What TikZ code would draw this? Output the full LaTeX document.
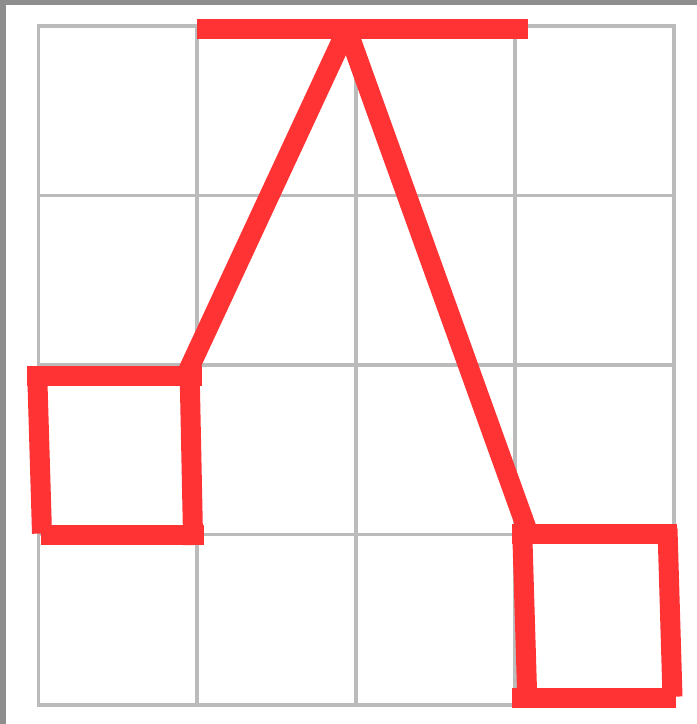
\documentclass[tikz,border=0pt]{standalone}
\definecolor{redline}{HTML}{FF3333}
\definecolor{gridgray}{HTML}{BBBBBB}
\definecolor{stone}{HTML}{8E8E8E}
\tikzset{
  redstroke/.style={draw=redline, line width=20pt, line cap=butt},
  gridstroke/.style={draw=gridgray, line width=3.5pt}
}
\begin{document}
\begin{tikzpicture}[x=1pt,y=-1pt]
\useasboundingbox (0,0) rectangle (697,724);
% background
\fill[stone] (0,0) rectangle (697,724);
\fill[white] (6,5) rectangle (697,724);
% grid
\foreach \gx in {38.5,197,356,515,674} \draw[gridstroke] (\gx,26) -- (\gx,705);
\foreach \gy in {26,195.5,365,534.5,705} \draw[gridstroke] (36.75,\gy) -- (675.75,\gy);
% key points
\coordinate (apex) at (347,29);
\coordinate (leftend) at (187,373);
\coordinate (rightend) at (529,535);
\coordinate (barL) at (197,29.3);
\coordinate (barR) at (528,29.3);
% top bar
\draw[redstroke] (barL) -- (barR);
% slanted lines
\draw[redstroke] (apex) -- (leftend);
\draw[redstroke] (apex) -- (rightend);
% left square
\draw[redstroke] (27,376.2) -- (202.3,376.2);
\draw[redstroke] (37,366.7) -- (42,533.5);
\draw[redstroke] (41,534.5) -- (204,534.5);
\draw[redstroke] (189.5,366.7) -- (193.2,545);
% right square
\draw[redstroke] (512.3,534.2) -- (676.7,534.2);
\draw[redstroke] (522,524.3) -- (527.5,706.7);
\draw[redstroke] (512,697.5) -- (676,697.5);
\draw[redstroke] (667.5,529) -- (672.5,696.7);
\end{tikzpicture}
\end{document}
